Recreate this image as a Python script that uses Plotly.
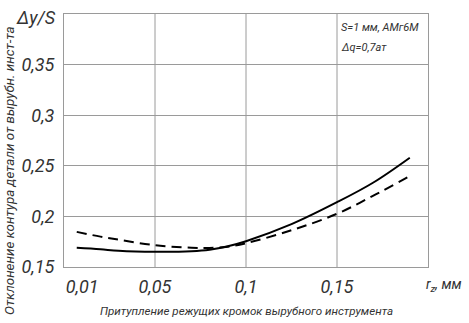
import plotly.graph_objects as go

# Data
r_z = [0.007, 0.02, 0.03, 0.05, 0.07, 0.08, 0.09, 0.1, 0.125, 0.15, 0.17, 0.19]
solid = [0.169, 0.1675, 0.166, 0.165, 0.1655, 0.167, 0.1705, 0.1755, 0.1923, 0.214, 0.2335, 0.258]
dashed = [0.1847, 0.180, 0.177, 0.1715, 0.169, 0.1688, 0.170, 0.1735, 0.1863, 0.2026, 0.2205, 0.240]

x_tick_vals = [0.01, 0.05, 0.1, 0.15]
x_tick_text = ["0,01", "0,05", "0,1", "0,15"]
x_grid = [0.05, 0.1, 0.15]
y_tick_vals = [0.15, 0.2, 0.25, 0.3, 0.35]
y_tick_text = ["0,15", "0,2", "0,25", "0,3", "0,35"]

FONT = "Roboto, sans-serif"
TXT = "#333333"

fig = go.Figure()
fig.add_trace(go.Scatter(x=r_z, y=solid, mode="lines",
                         line=dict(color="black", width=2, shape="spline"), showlegend=False))
fig.add_trace(go.Scatter(x=r_z, y=dashed, mode="lines",
                         line=dict(color="black", width=2, shape="spline", dash="10px,6px"), showlegend=False))

for gx in x_grid:
    fig.add_shape(type="line", xref="x", yref="paper", x0=gx, x1=gx, y0=0, y1=1,
                  line=dict(color="#9a9a9a", width=1), layer="below")

fig.update_layout(
    width=469, height=323,
    margin=dict(l=64, r=41, t=14, b=56, autoexpand=False),
    paper_bgcolor="white", plot_bgcolor="white",
    font=dict(family=FONT, color=TXT, style="italic"),
    xaxis=dict(range=[0, 0.2], tickvals=x_tick_vals, ticktext=x_tick_text, showgrid=False,
               zeroline=False, showline=True, linecolor="#9a9a9a", linewidth=1, mirror=True,
               ticks="", tickfont=dict(size=18, family=FONT, color=TXT, style="italic"),
               ticklabelstandoff=3, automargin=False),
    yaxis=dict(range=[0.15, 0.40], tickvals=y_tick_vals, ticktext=y_tick_text, showgrid=True,
               gridcolor="#9a9a9a", gridwidth=1, zeroline=False, showline=True,
               linecolor="#9a9a9a", linewidth=1, mirror=True, ticks="",
               tickfont=dict(size=18, family=FONT, color=TXT, style="italic"),
               ticklabelstandoff=5, automargin=False),
)

ann_font = dict(family=FONT, color=TXT, style="italic")
fig.add_annotation(text="Отклонение контура детали от вырубн. инст-та", textangle=-90,
                   xref="paper", yref="paper", x=-0.148, y=0.38, showarrow=False,
                   xanchor="center", yanchor="middle", font=dict(size=13.4, **ann_font))
fig.add_annotation(text="Δy/S", xref="paper", yref="paper", x=-0.077, y=0.988, showarrow=False,
                   xanchor="center", yanchor="middle", font=dict(size=18, **ann_font))
fig.add_annotation(text="Притупление режущих кромок вырубного инструмента",
                   xref="paper", yref="paper", x=0.5, y=-0.174, showarrow=False,
                   xanchor="center", yanchor="middle", font=dict(size=11.6, **ann_font))
fig.add_annotation(text="r<sub>z</sub>, мм", xref="paper", yref="paper", x=0.99, y=-0.071,
                   xanchor="left", yanchor="middle", showarrow=False, font=dict(size=14, **ann_font))
fig.add_annotation(text="S=1 мм, АМг6М", xref="paper", yref="paper", x=0.755, y=0.945,
                   xanchor="left", yanchor="middle", showarrow=False, font=dict(size=11, **ann_font))
fig.add_annotation(text="Δq=0,7ат", xref="paper", yref="paper", x=0.755, y=0.866,
                   xanchor="left", yanchor="middle", showarrow=False, font=dict(size=11, **ann_font))

fig.write_html("out.html", config={"displayModeBar": False},
               post_script="document.body.style.margin='0';")
